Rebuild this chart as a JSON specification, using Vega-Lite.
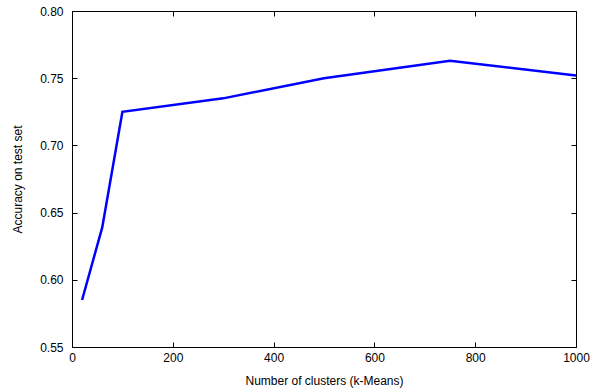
{
  "$schema": "https://vega.github.io/schema/vega-lite/v6.json",
  "width": 504,
  "height": 336,
  "autosize": {"type": "none"},
  "padding": {"left": 72, "top": 11, "right": 29, "bottom": 45},
  "background": "white",
  "config": {
    "view": {"stroke": "black", "strokeWidth": 1},
    "font": "Liberation Sans",
    "axis": {
      "grid": false,
      "domain": false,
      "tickColor": "black",
      "tickSize": -5,
      "labelFlush": false,
      "labelOverlap": false,
      "labelFont": "Liberation Sans",
      "labelFontSize": 12,
      "labelColor": "black",
      "titleFont": "Liberation Sans",
      "titleFontSize": 12,
      "titleFontWeight": "normal",
      "titleColor": "black"
    }
  },
  "data": {
    "values": [
      {"k": 20, "acc": 0.585},
      {"k": 60, "acc": 0.639},
      {"k": 100, "acc": 0.725},
      {"k": 300, "acc": 0.735},
      {"k": 500, "acc": 0.750},
      {"k": 750, "acc": 0.763},
      {"k": 1000, "acc": 0.752}
    ]
  },
  "layer": [
    {
      "mark": {"type": "line", "color": "#0000ff", "strokeWidth": 2.5},
      "encoding": {
        "x": {"field": "k", "type": "quantitative", "scale": {"domain": [0, 1000], "nice": false, "zero": false},
          "axis": {"orient": "bottom", "title": "Number of clusters (k-Means)", "values": [0, 200, 400, 600, 800, 1000], "format": "d", "labelPadding": 10, "titlePadding": 12}},
        "y": {"field": "acc", "type": "quantitative", "scale": {"domain": [0.55, 0.8], "nice": false, "zero": false},
          "axis": {"orient": "left", "title": "Accuracy on test set", "values": [0.55, 0.6, 0.65, 0.7, 0.75, 0.8], "format": ".2f", "labelPadding": 14, "titlePadding": 15}}
      }
    },
    {
      "mark": {"type": "line", "opacity": 0},
      "encoding": {
        "x": {"field": "k", "type": "quantitative", "axis": {"orient": "top", "title": null, "labels": false, "values": [0, 200, 400, 600, 800, 1000]}},
        "y": {"field": "acc", "type": "quantitative", "axis": {"orient": "right", "title": null, "labels": false, "values": [0.55, 0.6, 0.65, 0.7, 0.75, 0.8]}}
      }
    }
  ]
}
